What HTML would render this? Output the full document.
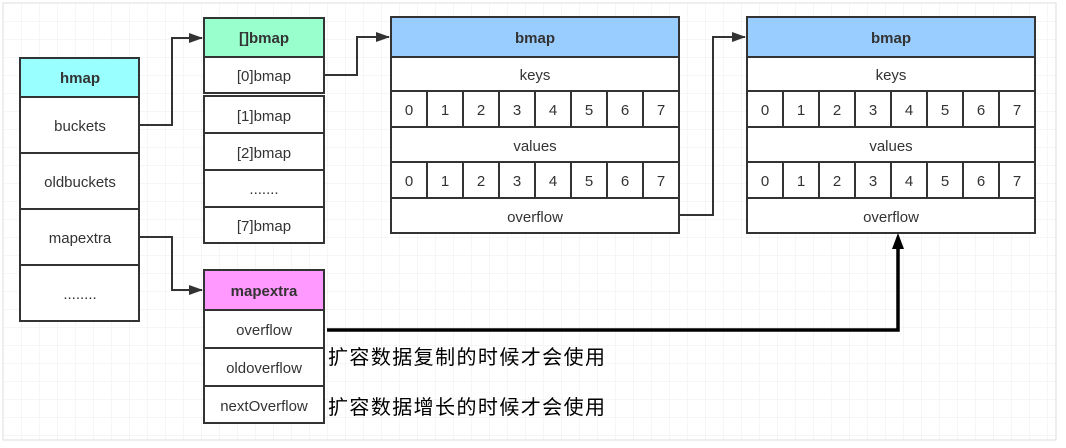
<!DOCTYPE html>
<html><head><meta charset="utf-8"><style>
html,body{margin:0;padding:0;background:#fff}
svg{display:block}
text{font-family:"Liberation Sans","Noto Sans CJK SC",sans-serif;fill:#333;font-size:15px}
</style></head><body>
<svg width="1066" height="448" viewBox="0 0 1066 448" xmlns="http://www.w3.org/2000/svg">
<defs>
<pattern id="g" x="3" y="3" width="18" height="18" patternUnits="userSpaceOnUse">
<path d="M0 0H18M0 0V18" stroke="#ececec" stroke-width="1" fill="none"/>
</pattern>
<marker id="a" markerWidth="14" markerHeight="12" refX="13" refY="6" orient="auto" markerUnits="userSpaceOnUse"><path d="M0 1L14 6L0 11z" fill="#333"/></marker>
</defs>
<rect x="3" y="3" width="1053" height="437" fill="url(#g)" stroke="#ddd"/>
<g stroke="#333" stroke-width="2">
<rect x="20" y="58" width="119" height="39" fill="#99ffff"/>
<rect x="20" y="97" width="119" height="56" fill="#fff"/>
<rect x="20" y="153" width="119" height="56" fill="#fff"/>
<rect x="20" y="209" width="119" height="56" fill="#fff"/>
<rect x="20" y="265" width="119" height="56" fill="#fff"/>
<rect x="204" y="18" width="120" height="39" fill="#99ffcc"/>
<rect x="204" y="57" width="120" height="36" fill="#fff"/>
<rect x="204" y="96" width="120" height="37" fill="#fff"/>
<rect x="204" y="133" width="120" height="37" fill="#fff"/>
<rect x="204" y="170" width="120" height="37" fill="#fff"/>
<rect x="204" y="207" width="120" height="36" fill="#fff"/>
<rect x="204" y="270" width="120" height="40" fill="#ff99ff"/>
<rect x="204" y="310" width="120" height="38" fill="#fff"/>
<rect x="204" y="348" width="120" height="38" fill="#fff"/>
<rect x="204" y="386" width="120" height="37" fill="#fff"/>
</g>
<g id="b1" stroke="#333" stroke-width="2">
<rect x="391" y="17" width="288" height="40" fill="#99ccff"/>
<rect x="391" y="57" width="288" height="34" fill="#fff"/>
<rect x="391" y="91" width="288" height="36" fill="#fff"/>
<rect x="391" y="127" width="288" height="35" fill="#fff"/>
<rect x="391" y="162" width="288" height="36" fill="#fff"/>
<rect x="391" y="198" width="288" height="35" fill="#fff"/>
<path d="M427 91V127M463 91V127M499 91V127M535 91V127M571 91V127M607 91V127M643 91V127M427 162V198M463 162V198M499 162V198M535 162V198M571 162V198M607 162V198M643 162V198"/>
</g>
<use href="#b1" x="356"/>
<g text-anchor="middle">
<text x="80" y="83" font-weight="bold">hmap</text>
<text x="80" y="131">buckets</text>
<text x="80" y="187">oldbuckets</text>
<text x="80" y="243">mapextra</text>
<text x="80" y="299">........</text>
<text x="264" y="43" font-weight="bold">[]bmap</text>
<text x="264" y="81">[0]bmap</text>
<text x="264" y="121">[1]bmap</text>
<text x="264" y="158">[2]bmap</text>
<text x="264" y="194">.......</text>
<text x="264" y="231">[7]bmap</text>
<text x="264" y="296" font-weight="bold">mapextra</text>
<text x="264" y="335">overflow</text>
<text x="264" y="373">oldoverflow</text>
<text x="264" y="411">nextOverflow</text>
</g>
<g text-anchor="middle" id="t1">
<text x="535" y="43" font-weight="bold">bmap</text>
<text x="535" y="80">keys</text>
<text x="535" y="151">values</text>
<text x="535" y="222">overflow</text>
<text x="409" y="115">0</text><text x="445" y="115">1</text><text x="481" y="115">2</text><text x="517" y="115">3</text><text x="553" y="115">4</text><text x="589" y="115">5</text><text x="625" y="115">6</text><text x="661" y="115">7</text>
<text x="409" y="186">0</text><text x="445" y="186">1</text><text x="481" y="186">2</text><text x="517" y="186">3</text><text x="553" y="186">4</text><text x="589" y="186">5</text><text x="625" y="186">6</text><text x="661" y="186">7</text>
</g>
<use href="#t1" x="356"/>
<g fill="none" stroke="#333" stroke-width="2">
<path d="M139 125H172V38H202" marker-end="url(#a)"/>
<path d="M324 75H357V37H389" marker-end="url(#a)"/>
<path d="M679 215H713V37H745" marker-end="url(#a)"/>
<path d="M139 237H172V290H202" marker-end="url(#a)"/>
</g>
<path d="M327 330H898V246" fill="none" stroke="#000" stroke-width="3.5"/>
<path d="M898 233L892 249H904z" fill="#000"/>
<text x="328" y="364" style="font-size:20px;fill:#000" textLength="277">扩容数据复制的时候才会使用</text>
<text x="328" y="414" style="font-size:20px;fill:#000" textLength="277">扩容数据增长的时候才会使用</text>
</svg>
</body></html>
